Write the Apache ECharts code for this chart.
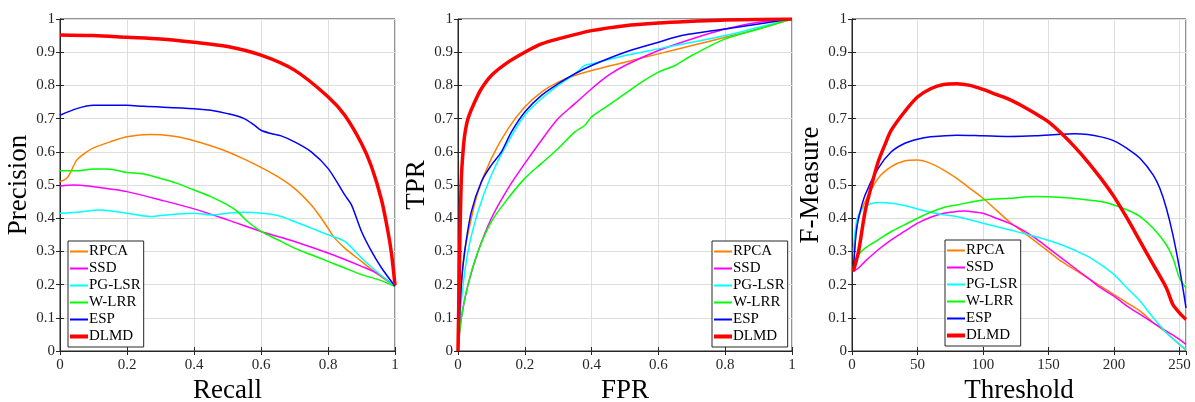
<!DOCTYPE html>
<html>
<head>
<meta charset="utf-8">
<script src="https://cdn.jsdelivr.net/npm/echarts@6/dist/echarts.min.js"></script>
<style>
  html, body { margin: 0; padding: 0; background: #fff; }
  #chart { width: 1195px; height: 402px; }
</style>
</head>
<body>
<div id="chart"></div>
<script>
// method names, same order in every legend
const methods = ["RPCA", "SSD", "PG-LSR", "W-LRR", "ESP", "DLMD"];
const colors = ["#ff8000", "#ff00ff", "#00ffff", "#00ff00", "#0000ff", "#ff0000"];

// precision-recall: [recall, precision]
const pr_RPCA = [[0, 0.51], [0.02, 0.52], [0.03, 0.535], [0.05, 0.575], [0.08, 0.6], [0.1, 0.612], [0.15, 0.63], [0.2, 0.645], [0.27, 0.652], [0.3, 0.651], [0.35, 0.645], [0.4, 0.633], [0.45, 0.618], [0.5, 0.6], [0.55, 0.578], [0.6, 0.553], [0.65, 0.525], [0.7, 0.49], [0.75, 0.44], [0.78, 0.4], [0.8, 0.37], [0.82, 0.34], [0.85, 0.31], [0.9, 0.27], [0.95, 0.23], [1, 0.195]];
const pr_SSD = [[0, 0.497], [0.04, 0.5], [0.1, 0.495], [0.15, 0.488], [0.2, 0.48], [0.3, 0.455], [0.4, 0.428], [0.5, 0.395], [0.6, 0.36], [0.7, 0.33], [0.8, 0.295], [0.9, 0.255], [0.95, 0.232], [1, 0.195]];
const pr_PGLSR = [[0, 0.415], [0.05, 0.418], [0.12, 0.425], [0.2, 0.415], [0.27, 0.405], [0.3, 0.408], [0.4, 0.415], [0.45, 0.41], [0.5, 0.415], [0.55, 0.418], [0.6, 0.415], [0.65, 0.408], [0.7, 0.39], [0.75, 0.37], [0.8, 0.35], [0.85, 0.33], [0.9, 0.28], [0.95, 0.235], [1, 0.195]];
const pr_WLRR = [[0, 0.543], [0.05, 0.543], [0.1, 0.548], [0.14, 0.548], [0.2, 0.538], [0.25, 0.533], [0.3, 0.52], [0.35, 0.505], [0.4, 0.485], [0.45, 0.465], [0.5, 0.44], [0.53, 0.42], [0.56, 0.39], [0.6, 0.36], [0.65, 0.335], [0.7, 0.31], [0.75, 0.29], [0.8, 0.27], [0.85, 0.25], [0.9, 0.23], [0.95, 0.215], [1, 0.195]];
const pr_ESP = [[0, 0.71], [0.05, 0.73], [0.1, 0.74], [0.2, 0.74], [0.25, 0.737], [0.4, 0.73], [0.45, 0.725], [0.5, 0.715], [0.55, 0.7], [0.58, 0.68], [0.6, 0.665], [0.63, 0.655], [0.66, 0.648], [0.7, 0.63], [0.75, 0.6], [0.8, 0.55], [0.85, 0.47], [0.87, 0.44], [0.9, 0.36], [0.93, 0.3], [0.96, 0.25], [1, 0.195]];
const pr_DLMD = [[0, 0.952], [0.1, 0.95], [0.2, 0.945], [0.3, 0.94], [0.4, 0.93], [0.5, 0.917], [0.6, 0.891], [0.7, 0.846], [0.8, 0.766], [0.85, 0.71], [0.9, 0.625], [0.93, 0.555], [0.96, 0.454], [0.98, 0.354], [0.99, 0.29], [1, 0.198]];

// ROC: [fpr, tpr]
const roc_RPCA = [[0, 0], [0.01, 0.2], [0.02, 0.3], [0.04, 0.4], [0.06, 0.48], [0.1, 0.58], [0.15, 0.67], [0.2, 0.735], [0.25, 0.78], [0.3, 0.81], [0.35, 0.83], [0.4, 0.845], [0.5, 0.87], [0.6, 0.895], [0.7, 0.92], [0.8, 0.945], [0.9, 0.97], [1, 1]];
const roc_SSD = [[0, 0], [0.01, 0.1], [0.03, 0.2], [0.06, 0.3], [0.1, 0.4], [0.15, 0.49], [0.2, 0.565], [0.25, 0.635], [0.3, 0.7], [0.35, 0.745], [0.4, 0.79], [0.45, 0.83], [0.5, 0.86], [0.6, 0.905], [0.7, 0.94], [0.8, 0.97], [0.9, 0.99], [1, 1]];
const roc_PGLSR = [[0, 0], [0.01, 0.15], [0.03, 0.3], [0.06, 0.42], [0.1, 0.53], [0.15, 0.63], [0.2, 0.71], [0.25, 0.76], [0.3, 0.8], [0.35, 0.835], [0.38, 0.86], [0.4, 0.865], [0.5, 0.89], [0.6, 0.91], [0.7, 0.93], [0.8, 0.95], [0.9, 0.975], [1, 1]];
const roc_WLRR = [[0, 0], [0.01, 0.1], [0.03, 0.2], [0.06, 0.3], [0.1, 0.39], [0.15, 0.46], [0.2, 0.52], [0.25, 0.565], [0.3, 0.61], [0.35, 0.66], [0.38, 0.68], [0.4, 0.705], [0.45, 0.74], [0.5, 0.775], [0.55, 0.81], [0.6, 0.84], [0.65, 0.86], [0.7, 0.89], [0.8, 0.94], [0.9, 0.97], [1, 1]];
const roc_ESP = [[0, 0], [0.01, 0.2], [0.02, 0.3], [0.04, 0.42], [0.07, 0.51], [0.1, 0.56], [0.13, 0.6], [0.16, 0.66], [0.2, 0.72], [0.25, 0.77], [0.3, 0.805], [0.35, 0.835], [0.4, 0.86], [0.5, 0.9], [0.6, 0.93], [0.67, 0.95], [0.8, 0.97], [0.9, 0.985], [1, 1]];
const roc_DLMD = [[0, 0], [0.005, 0.3], [0.01, 0.52], [0.015, 0.6], [0.02, 0.65], [0.03, 0.7], [0.05, 0.75], [0.07, 0.79], [0.1, 0.83], [0.15, 0.87], [0.2, 0.9], [0.25, 0.925], [0.3, 0.94], [0.4, 0.965], [0.5, 0.98], [0.6, 0.988], [0.7, 0.993], [0.8, 0.997], [1, 1]];

// F-measure: [threshold, F]
const fm_RPCA = [[1, 0.24], [3, 0.35], [5, 0.4], [10, 0.45], [20, 0.52], [30, 0.555], [40, 0.572], [50, 0.575], [60, 0.565], [70, 0.545], [80, 0.52], [90, 0.49], [100, 0.46], [110, 0.425], [120, 0.39], [130, 0.36], [140, 0.33], [150, 0.3], [160, 0.27], [170, 0.245], [180, 0.22], [190, 0.195], [200, 0.17], [210, 0.145], [220, 0.12], [230, 0.085], [240, 0.055], [250, 0.02], [255, 0.003]];
const fm_SSD = [[1, 0.24], [5, 0.25], [10, 0.27], [20, 0.305], [30, 0.335], [40, 0.36], [50, 0.385], [60, 0.403], [70, 0.415], [80, 0.42], [85, 0.422], [90, 0.42], [100, 0.415], [110, 0.4], [120, 0.385], [130, 0.365], [140, 0.34], [150, 0.31], [160, 0.28], [170, 0.25], [180, 0.22], [190, 0.19], [200, 0.165], [210, 0.135], [220, 0.11], [230, 0.085], [240, 0.06], [250, 0.035], [255, 0.02]];
const fm_PGLSR = [[1, 0.3], [3, 0.38], [5, 0.41], [10, 0.435], [20, 0.447], [30, 0.445], [40, 0.438], [50, 0.428], [60, 0.418], [70, 0.41], [80, 0.405], [100, 0.385], [120, 0.365], [140, 0.345], [160, 0.32], [180, 0.285], [190, 0.26], [200, 0.23], [210, 0.19], [220, 0.15], [230, 0.1], [240, 0.055], [250, 0.02], [255, 0.005]];
const fm_WLRR = [[1, 0.24], [3, 0.27], [5, 0.29], [10, 0.31], [20, 0.335], [30, 0.36], [40, 0.38], [50, 0.4], [60, 0.418], [70, 0.432], [80, 0.44], [100, 0.455], [120, 0.46], [140, 0.465], [160, 0.462], [180, 0.455], [190, 0.45], [200, 0.44], [210, 0.425], [220, 0.405], [230, 0.37], [240, 0.32], [245, 0.28], [250, 0.22], [255, 0.19]];
const fm_ESP = [[1, 0.24], [3, 0.35], [5, 0.4], [10, 0.47], [20, 0.55], [30, 0.6], [40, 0.625], [50, 0.638], [60, 0.645], [80, 0.65], [100, 0.648], [120, 0.646], [140, 0.648], [160, 0.653], [170, 0.654], [180, 0.652], [190, 0.645], [200, 0.633], [210, 0.61], [220, 0.58], [230, 0.53], [235, 0.49], [240, 0.43], [245, 0.35], [250, 0.25], [253, 0.18], [255, 0.13]];
const fm_DLMD = [[1, 0.24], [5, 0.3], [10, 0.42], [15, 0.5], [20, 0.57], [25, 0.62], [30, 0.665], [40, 0.72], [50, 0.765], [60, 0.79], [70, 0.803], [80, 0.805], [90, 0.8], [100, 0.788], [110, 0.773], [120, 0.758], [130, 0.738], [140, 0.715], [150, 0.69], [160, 0.655], [170, 0.615], [180, 0.57], [190, 0.52], [200, 0.465], [210, 0.4], [220, 0.33], [230, 0.26], [240, 0.19], [245, 0.14], [250, 0.115], [255, 0.095]];

const panels = [
    { xName: "Recall", yName: "Precision", xMax: 1, xStep: 0.2, data: [pr_RPCA, pr_SSD, pr_PGLSR, pr_WLRR, pr_ESP, pr_DLMD] },
    { xName: "FPR", yName: "TPR", xMax: 1, xStep: 0.2, data: [roc_RPCA, roc_SSD, roc_PGLSR, roc_WLRR, roc_ESP, roc_DLMD] },
    { xName: "Threshold", yName: "F-Measure", xMax: 255, xStep: 50, data: [fm_RPCA, fm_SSD, fm_PGLSR, fm_WLRR, fm_ESP, fm_DLMD] }
];

const font = "Liberation Serif";
const gridPos = [{ left: 60, width: 335 }, { left: 458, width: 334 }, { left: 852, width: 334 }];
const legendPos = [{ left: 68, top: 241 }, { left: 712, top: 241 }, { left: 945, top: 240 }];

// legend icons: a short horizontal stroke; tiny corner segments keep the box at full size
const thinLine = "path://M0,0 L0.01,0 M0,6 L18,6 L18,8 L0,8 Z M18,14 L17.99,14";
const thickLine = "path://M0,0 L0.01,0 M0,5 L18,5 L18,9 L0,9 Z M18,14 L17.99,14";

let grid = [], xAxis = [], yAxis = [], series = [], legend = [];

let axisLabel = { color: "#262626", fontFamily: font, fontSize: 15 };
let tick = { show: true, inside: true, length: 4, lineStyle: { color: "#262626" } };

panels.forEach((p, i) => {
    grid.push({
        left: gridPos[i].left, width: gridPos[i].width, top: 19, height: 332,
        outerBoundsMode: "none", containLabel: false,
        show: true, borderColor: "#262626", borderWidth: 1
    });
    // main axes
    xAxis.push({
        type: "value", gridIndex: i, min: 0, max: p.xMax, interval: p.xStep,
        name: p.xName, nameLocation: "middle", nameGap: 20,
        nameTextStyle: { color: "#000", fontFamily: font, fontSize: 27 },
        axisLine: { onZero: false, lineStyle: { color: "#262626" } },
        axisTick: tick,
        axisLabel: Object.assign({ margin: 7, showMaxLabel: p.xMax === 1 }, axisLabel),
        splitLine: { show: true, lineStyle: { color: "#dedede" } }
    });
    yAxis.push({
        type: "value", gridIndex: i, min: 0, max: 1, interval: 0.1,
        name: p.yName, nameLocation: "middle", nameGap: 22,
        nameTextStyle: { color: "#000", fontFamily: font, fontSize: 27 },
        axisLine: { onZero: false, lineStyle: { color: "#262626" } },
        axisTick: tick,
        axisLabel: Object.assign({ margin: 5 }, axisLabel),
        splitLine: { show: true, lineStyle: { color: "#dedede" } }
    });
    // mirrored ticks on top and right (box on)
    xAxis.push({
        type: "value", gridIndex: i, min: 0, max: p.xMax, interval: p.xStep, position: "top",
        axisLine: { show: false }, axisTick: tick, axisLabel: { show: false }, splitLine: { show: false }
    });
    yAxis.push({
        type: "value", gridIndex: i, min: 0, max: 1, interval: 0.1, position: "right",
        axisLine: { show: false }, axisTick: tick, axisLabel: { show: false }, splitLine: { show: false }
    });

    methods.forEach((m, k) => {
        let bold = m === "DLMD";
        series.push({
            name: m, type: "line", xAxisIndex: i * 2, yAxisIndex: i * 2,
            data: p.data[k], symbol: "none", smooth: 0.3,
            lineStyle: { color: colors[k], width: bold ? 3.5 : 1.5 },
            itemStyle: { color: colors[k] },
            z: bold ? 5 : 2
        });
    });

    legend.push({
        orient: "vertical", left: legendPos[i].left, top: legendPos[i].top,
        data: methods.map(m => ({ name: m, icon: m === "DLMD" ? thickLine : thinLine })),
        itemWidth: 18, itemHeight: 14, itemGap: 2,
        padding: [3, 3, 3, 2], backgroundColor: "#fff",
        borderColor: "#262626", borderWidth: 1, borderRadius: 0,
        textStyle: { color: "#000", fontFamily: font, fontSize: 15, padding: [0, 0, 0, -4] },
        selectedMode: false
    });
});

let myChart = echarts.init(document.getElementById("chart"), null, { renderer: "canvas" });
myChart.setOption({
    animation: false,
    backgroundColor: "#fff",
    grid: grid,
    xAxis: xAxis,
    yAxis: yAxis,
    legend: legend,
    series: series
});
</script>
</body>
</html>
